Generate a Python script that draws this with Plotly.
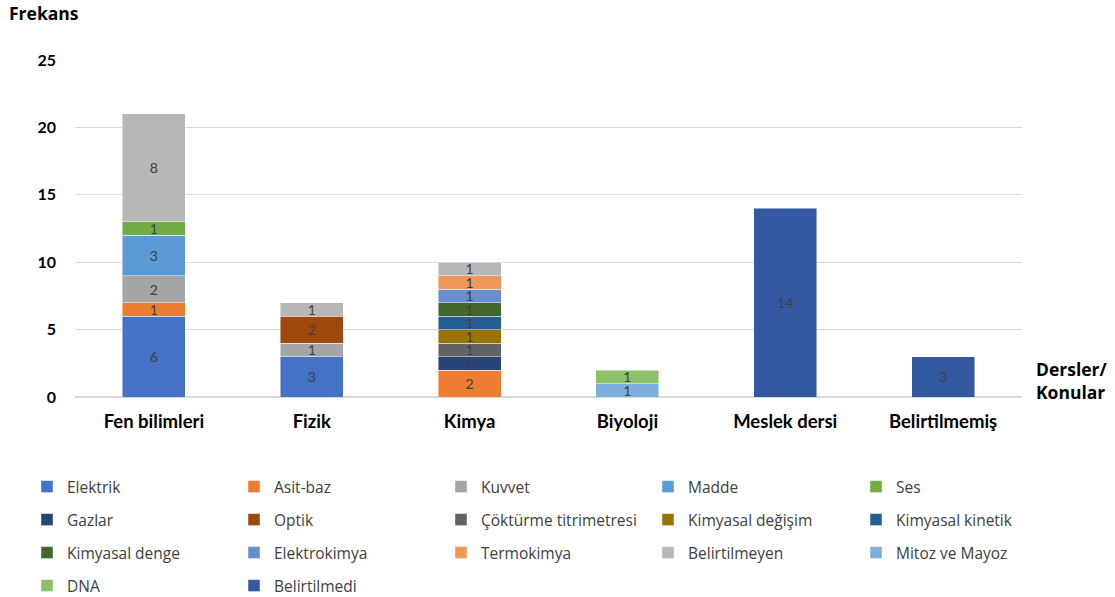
import plotly.graph_objects as go

categories = ["Fen bilimleri", "Fizik", "Kimya", "Biyoloji", "Meslek dersi", "Belirtilmemiş"]

series_names = ["Elektrik", "Asit-baz", "Kuvvet", "Madde", "Ses",
                "Gazlar", "Optik", "Çöktürme titrimetresi", "Kimyasal değişim", "Kimyasal kinetik",
                "Kimyasal denge", "Elektrokimya", "Termokimya", "Belirtilmeyen", "Mitoz ve Mayoz",
                "DNA", "Belirtilmedi"]

elektrik = [6, 3, None, None, None, None]
asit_baz = [1, None, 2, None, None, None]
kuvvet = [2, 1, None, None, None, None]
madde = [3, None, None, None, None, None]
ses = [1, None, None, None, None, None]
gazlar = [None, None, 1, None, None, None]
optik = [None, 2, None, None, None, None]
cokturme = [None, None, 1, None, None, None]
kim_degisim = [None, None, 1, None, None, None]
kim_kinetik = [None, None, 1, None, None, None]
kim_denge = [None, None, 1, None, None, None]
elektrokimya = [None, None, 1, None, None, None]
termokimya = [None, None, 1, None, None, None]
belirtilmeyen = [8, 1, 1, None, None, None]
mitoz = [None, None, None, 1, None, None]
dna = [None, None, None, 1, None, None]
belirtilmedi = [None, None, None, None, 14, 3]

series_values = [elektrik, asit_baz, kuvvet, madde, ses, gazlar, optik, cokturme,
                 kim_degisim, kim_kinetik, kim_denge, elektrokimya, termokimya,
                 belirtilmeyen, mitoz, dna, belirtilmedi]

colors = ["#4472C4", "#ED7D31", "#A5A5A5", "#5B9BD5", "#70AD47",
          "#264478", "#9E480E", "#636363", "#997300", "#255E91",
          "#43682B", "#698ED0", "#F1975A", "#B7B7B7", "#7CAFDD",
          "#8CC168", "#335AA1"]

y_ticks = [0, 5, 10, 15, 20, 25]

FONT = "Lato"
LFONT = "Open Sans"
W, H = 1115, 597

# legend grid: 5 columns, rows top to bottom (pixel layout)
col_x = [27, 234, 441, 648, 856]
row_y = [487, 520, 553, 586]

fig = go.Figure()
legend_cfg = {}
for i, (name, vals, col) in enumerate(zip(series_names, series_values, colors)):
    lid = "legend" if i == 0 else f"legend{i + 1}"
    fig.add_trace(go.Bar(
        name=name, x=categories, y=vals,
        marker=dict(color=col, line=dict(color="rgba(255,255,255,0.6)", width=0.75)),
        text=vals, texttemplate="%{y}", textposition="inside",
        insidetextanchor="middle", textangle=0,
        textfont=dict(family=FONT, size=14, color="#404040"),
        legend=lid,
        hoverinfo="name+y",
    ))
    legend_cfg[lid] = dict(
        orientation="h", xref="container", yref="container",
        x=col_x[i % 5] / W, xanchor="left",
        y=1 - row_y[i // 5] / H, yanchor="middle",
        font=dict(family=LFONT, size=15.5, color="#404040"),
        bgcolor="rgba(0,0,0,0)", borderwidth=0,
    )

fig.update_layout(
    barmode="stack",
    bargap=0.6,
    width=W, height=H,
    margin=dict(l=75, r=93, t=60, b=200),
    plot_bgcolor="white", paper_bgcolor="white",
    uniformtext=dict(minsize=14, mode="show"),
    font=dict(family=FONT, color="#000000"),
    showlegend=True,
    **legend_cfg,
    xaxis=dict(
        showgrid=False, showline=True, linecolor="#D9D9D9", linewidth=1,
        ticks="", ticklabelstandoff=8,
        tickfont=dict(family=FONT, size=18.5, color="#000000", weight="bold"),
    ),
    yaxis=dict(
        range=[0, 25], tickvals=y_ticks, showgrid=True, gridcolor="#D9D9D9",
        gridwidth=1, zeroline=True, zerolinecolor="#D9D9D9", showline=False,
        ticks="", ticklabelstandoff=18,
        tickfont=dict(family=FONT, size=16, color="#000000", weight="bold"),
    ),
    annotations=[
        dict(text="<b>Frekans</b>", xref="paper", yref="paper", x=-75 / 947 + 7 / 947,
             y=1 + (60 - 13) / 337, xanchor="left", yanchor="middle", showarrow=False,
             font=dict(family=LFONT, size=17.5, color="#000000")),
        dict(text="<b>Dersler/<br>Konular</b>", xref="paper", yref="paper",
             x=1 + (1110 - 1022) / 947, y=(397 - 380) / 337, xanchor="right",
             yanchor="middle", align="left", showarrow=False,
             font=dict(family=LFONT, size=17.5, color="#000000")),
    ],
)

fig.write_html("out.html")
